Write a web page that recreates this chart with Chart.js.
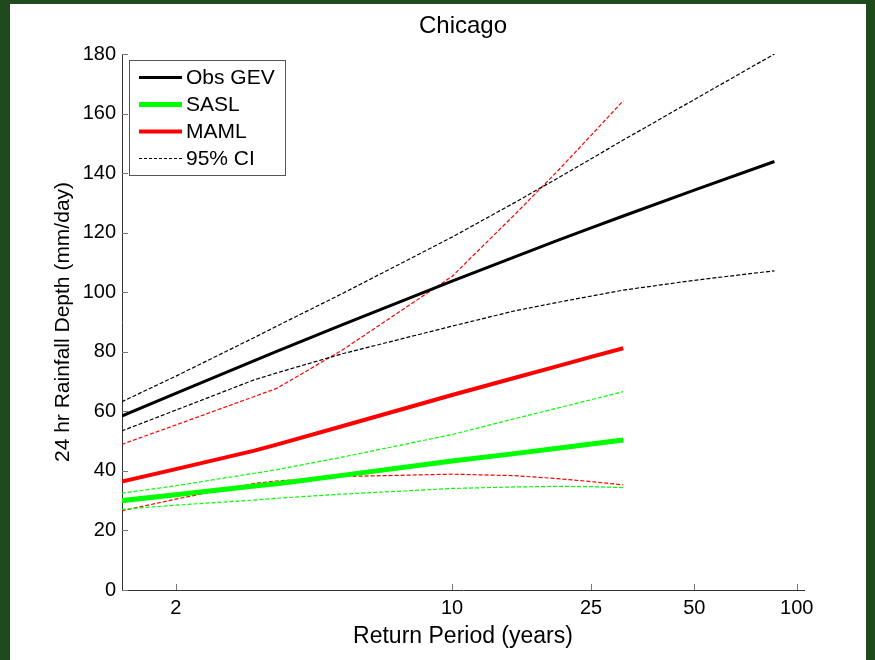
<!DOCTYPE html>
<html>
<head>
<meta charset="utf-8">
<script src="https://cdn.jsdelivr.net/npm/chart.js@4.4.1/dist/chart.umd.min.js"></script>
<style>
  html, body { margin: 0; padding: 0; }
  body { width: 875px; height: 660px; background: #1e4a1e; position: relative; overflow: hidden; }
  #panel { position: absolute; left: 10px; top: 4px; width: 856px; height: 656px; background: #fff; }
  #wrap { position: absolute; left: 0; top: 0; width: 875px; height: 660px; }
</style>
</head>
<body>
<div id="panel"></div>
<div id="wrap"><canvas id="chart" width="875" height="660"></canvas></div>
<script>
// return periods (years) where the curves are read
const obsPeriods = [1.58, 2, 3, 3.4, 5, 10, 15, 20, 25, 31, 50, 86];
const modelPeriods = [1.58, 2, 3, 3.4, 5, 10, 15, 20, 25, 31];

// observed GEV fit and its 95% band
const obsGev   = [58.4, 66.0, 77.0, 80.1, 89.0, 103.7, 111.8, 117.4, 121.6, 125.6, 134.3, 143.9];
const obsUpper = [63.2, 71.8, 84.8, 88.6, 99.5, 118.5, 130.0, 138.3, 144.8, 151.1, 164.7, 180.0];
const obsLower = [53.4, 60.4, 70.6, 72.9, 79.3, 88.6, 93.7, 96.6, 98.7, 100.7, 104.0, 107.2];

// SASL
const sasl      = [30.0, 32.0, 34.9, 35.7, 38.5, 43.3, 45.8, 47.6, 49.0, 50.4];
const saslUpper = [32.5, 35.0, 39.2, 40.4, 44.6, 52.2, 57.5, 61.1, 63.9, 66.6];
const saslLower = [27.1, 28.5, 30.2, 30.8, 32.2, 34.1, 34.6, 34.8, 34.7, 34.4];

// MAML
const maml      = [36.4, 40.6, 46.8, 48.8, 55.0, 65.5, 71.2, 75.2, 78.3, 81.2];
const mamlUpper = [48.9, 55.4, 65.0, 67.7, 80.5, 105.3, 125.9, 140.7, 152.7, 164.3];
const mamlLower = [26.6, 30.5, 35.8, 36.6, 38.1, 38.9, 38.4, 37.4, 36.4, 35.3];

const tickPeriods = [2, 10, 25, 50, 100];
const yTicks = [0, 20, 40, 60, 80, 100, 120, 140, 160, 180];

// x axis is the Gumbel reduced variate of the return period
const gumbel = T => -Math.log(-Math.log(1 - 1 / T));
const pts = (periods, vals) => periods.map((T, i) => ({ x: gumbel(T), y: vals[i] }));

const FONT = "'Liberation Sans', Arial, Helvetica, sans-serif";
Chart.defaults.font.family = FONT;
Chart.defaults.color = '#000';

const dash = [4, 2];
function line(label, data, color, width, dashed) {
    return {
        label: label,
        data: data,
        borderColor: color,
        backgroundColor: color,
        borderWidth: width,
        borderDash: dashed ? dash : [],
        pointRadius: 0,
        fill: false,
        tension: 0
    };
}

// legend inside the plot, drawn from the datasets that carry a label
const boxLegend = {
    id: 'boxLegend',
    afterDraw(chart) {
        const ctx = chart.ctx;
        const items = chart.data.datasets.filter(d => d.label);
        const x0 = 129.5, y0 = 60.5, w = 156, h = 115;
        ctx.save();
        ctx.fillStyle = '#fff';
        ctx.fillRect(x0, y0, w, h);
        ctx.strokeStyle = '#555';
        ctx.lineWidth = 1;
        ctx.strokeRect(x0, y0, w, h);
        ctx.font = '21px ' + FONT;
        ctx.textBaseline = 'middle';
        ctx.fillStyle = '#000';
        items.forEach((d, i) => {
            const y = 77.5 + i * 27;
            ctx.beginPath();
            ctx.strokeStyle = d.borderColor;
            ctx.lineWidth = d.borderDash.length ? 1 : d.borderWidth;
            ctx.setLineDash(d.borderDash.length ? [3, 2] : []);
            ctx.moveTo(139, y);
            ctx.lineTo(182, y);
            ctx.stroke();
            ctx.fillText(d.label, 186, y + 1);
        });
        ctx.restore();
    }
};

// matlab style tick marks pointing into the plot
const innerTicks = {
    id: 'innerTicks',
    afterDraw(chart) {
        const { ctx, chartArea: a, scales } = chart;
        ctx.save();
        ctx.strokeStyle = '#777';
        ctx.lineWidth = 1;
        ctx.beginPath();
        scales.y.ticks.forEach(t => {
            const y = Math.round(scales.y.getPixelForValue(t.value)) + 0.5;
            ctx.moveTo(a.left, y);
            ctx.lineTo(a.left + 6, y);
        });
        scales.x.ticks.forEach(t => {
            const x = Math.round(scales.x.getPixelForValue(t.value)) + 0.5;
            ctx.moveTo(x, a.bottom);
            ctx.lineTo(x, a.bottom - 6);
        });
        ctx.stroke();
        ctx.restore();
    }
};

new Chart(document.getElementById('chart'), {
    type: 'line',
    data: {
        datasets: [
            line('Obs GEV', pts(obsPeriods, obsGev), '#000000', 3, false),
            line('SASL', pts(modelPeriods, sasl), '#00ff00', 5, false),
            line('MAML', pts(modelPeriods, maml), '#ff0000', 4, false),
            line('95% CI', pts(obsPeriods, obsUpper), '#000000', 1.2, true),
            line('', pts(obsPeriods, obsLower), '#000000', 1.2, true),
            line('', pts(modelPeriods, saslUpper), '#00ff00', 1.2, true),
            line('', pts(modelPeriods, saslLower), '#00ff00', 1.2, true),
            line('', pts(modelPeriods, mamlUpper), '#ff0000', 1.2, true),
            line('', pts(modelPeriods, mamlLower), '#ff0000', 1.2, true)
        ]
    },
    options: {
        responsive: false,
        animation: false,
        layout: { padding: { left: 0, right: 71, top: 0, bottom: 0 } },
        plugins: {
            legend: { display: false },
            tooltip: { enabled: false },
            title: {
                display: true,
                text: 'Chicago',
                fullSize: false,
                color: '#000',
                font: { size: 24, weight: 'normal' },
                padding: { top: 12, bottom: 13.2 }
            }
        },
        scales: {
            x: {
                type: 'linear',
                min: 0,
                max: 4.65,
                afterBuildTicks: s => { s.ticks = tickPeriods.map(T => ({ value: gumbel(T) })); },
                afterFit: s => { s.height = 70; },
                grid: { display: true, drawOnChartArea: false, drawTicks: false },
                border: { display: true, color: '#333', width: 1 },
                ticks: {
                    autoSkip: false,
                    maxRotation: 0,
                    padding: 6,
                    font: { size: 20 },
                    color: '#000',
                    callback: (v, i) => tickPeriods[i]
                },
                title: {
                    display: true,
                    text: 'Return Period (years)',
                    font: { size: 23 },
                    color: '#000',
                    padding: { top: 0, bottom: 10 }
                }
            },
            y: {
                min: 0,
                max: 180,
                afterBuildTicks: s => { s.ticks = yTicks.map(v => ({ value: v })); },
                afterFit: s => { s.width = 122; },
                grid: { display: true, drawOnChartArea: false, drawTicks: false },
                border: { display: true, color: '#333', width: 1 },
                ticks: {
                    padding: 6,
                    font: { size: 20 },
                    color: '#000'
                },
                title: {
                    display: true,
                    text: '24 hr Rainfall Depth (mm/day)',
                    font: { size: 21 },
                    color: '#000',
                    padding: { top: 51, bottom: 0 }
                }
            }
        }
    },
    plugins: [innerTicks, boxLegend]
});
</script>
</body>
</html>
